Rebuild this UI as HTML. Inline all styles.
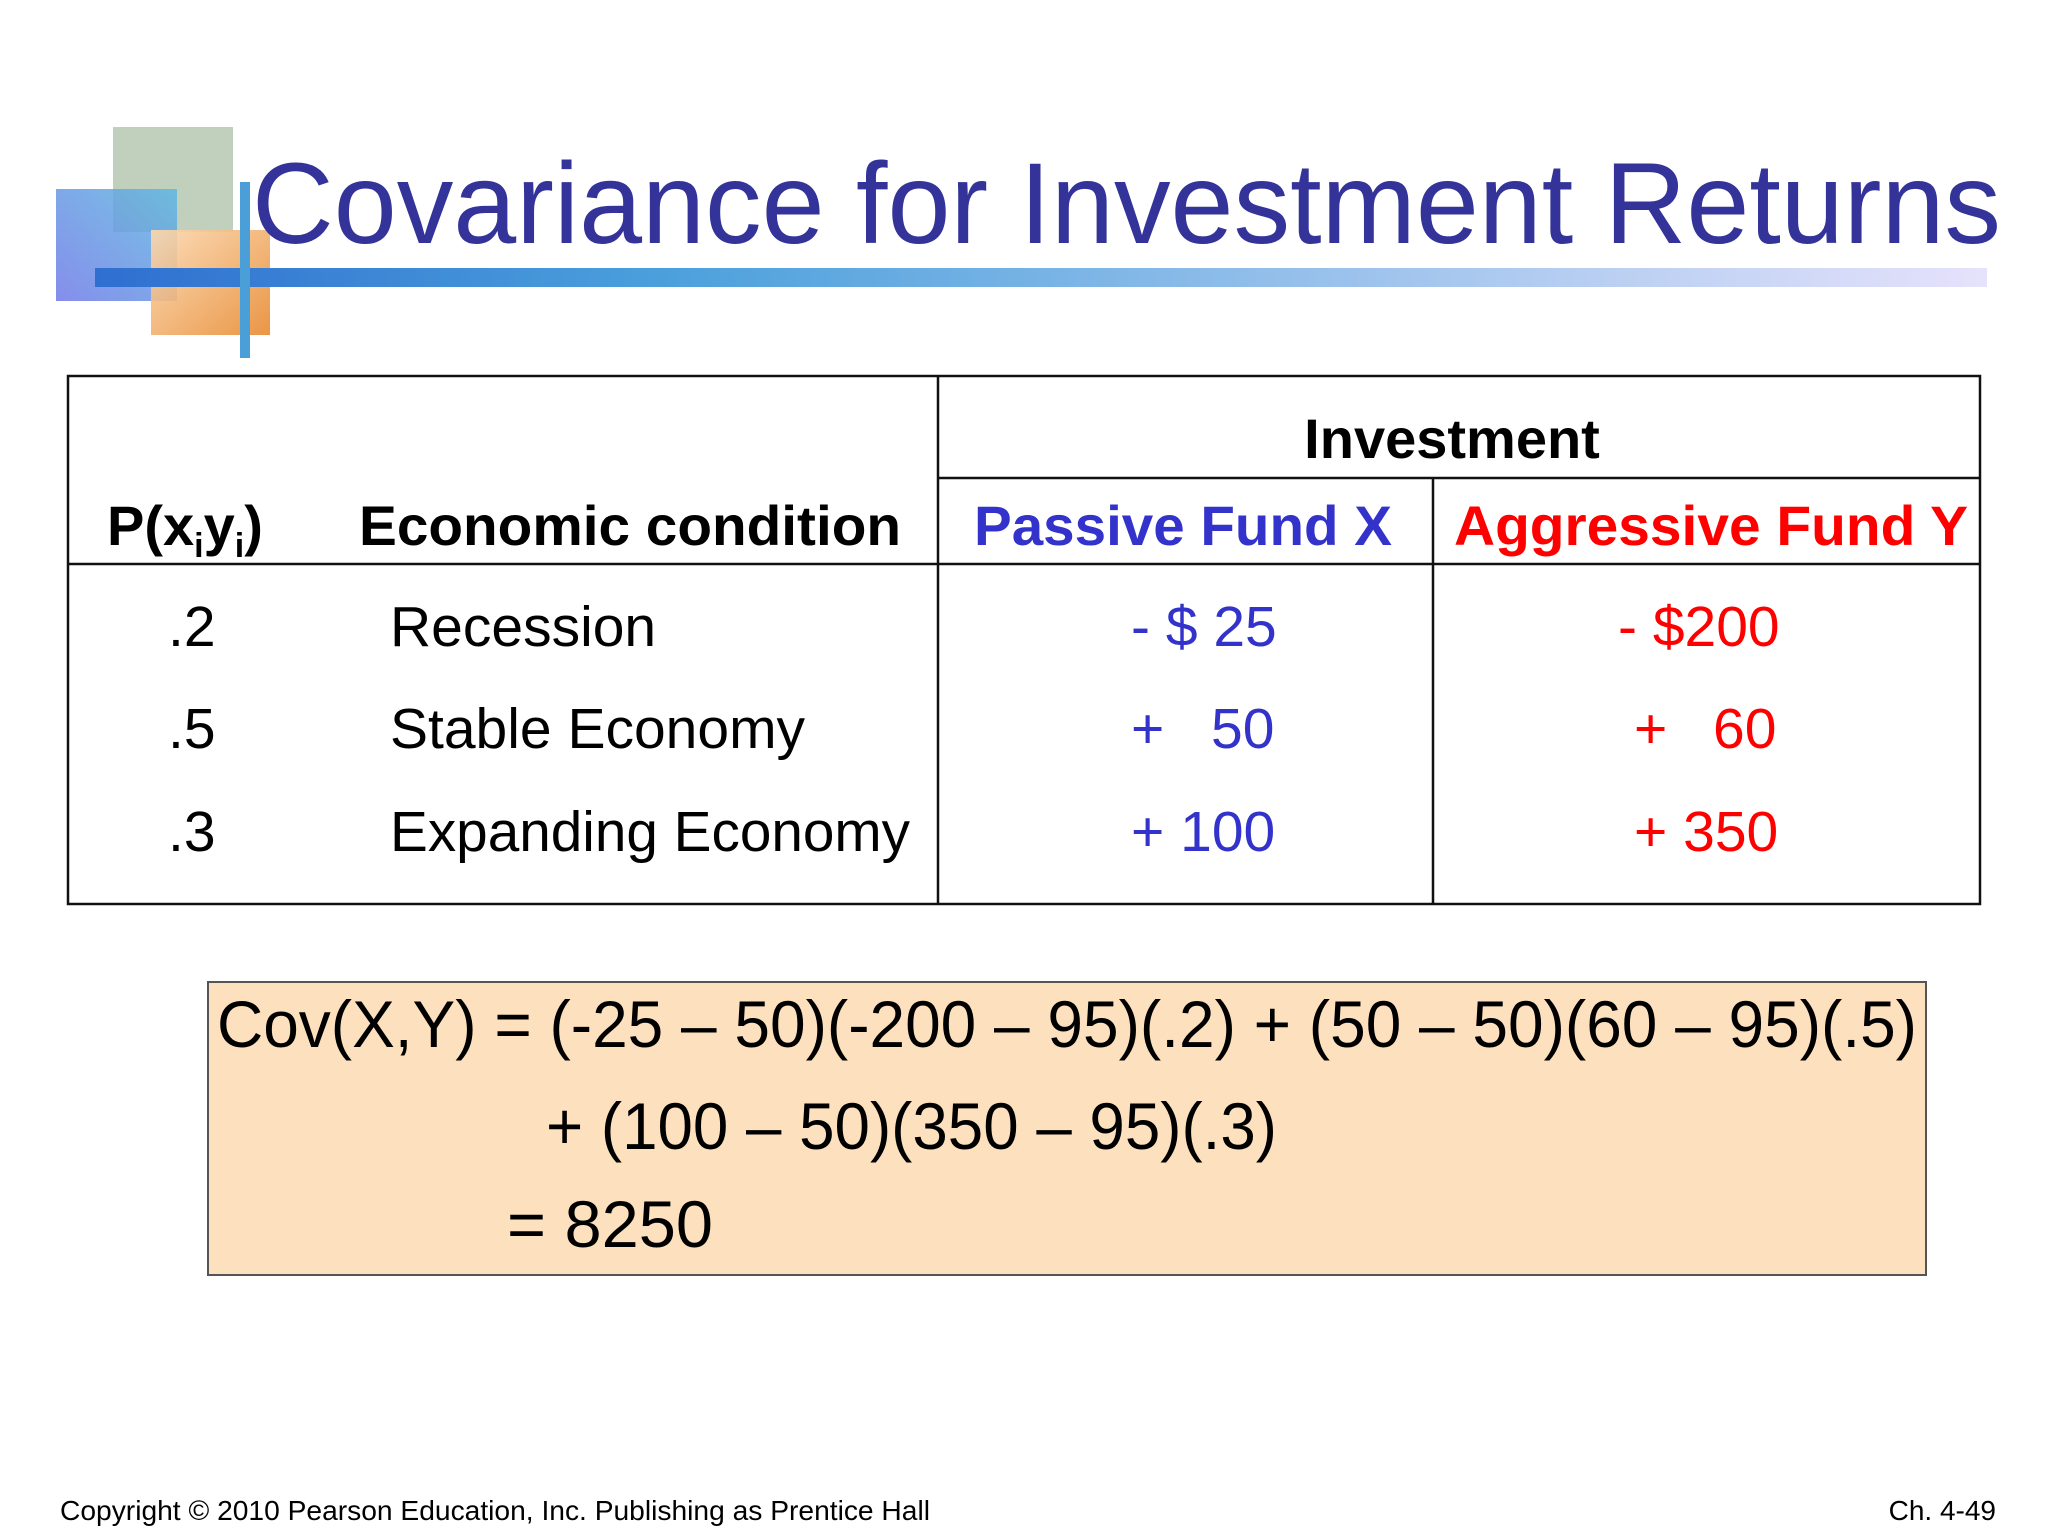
<!DOCTYPE html>
<html><head><meta charset="utf-8"><style>
html,body{margin:0;padding:0;background:#fff;}
svg{display:block;font-family:"Liberation Sans",Arial,sans-serif;}
</style></head><body>
<svg width="2048" height="1536" viewBox="0 0 2048 1536">
<defs>
<linearGradient id="bar" x1="0" x2="1"><stop offset="0" stop-color="#2f6fd0"/><stop offset="0.3" stop-color="#4ba0dc"/><stop offset="1" stop-color="#e6e2fb"/></linearGradient>
<linearGradient id="blueg" x1="0" x2="1" y1="1" y2="0"><stop offset="0" stop-color="#6f7ae8"/><stop offset="1" stop-color="#5fb8e0"/></linearGradient>
<linearGradient id="orag" x1="0" x2="1" y1="0" y2="1"><stop offset="0" stop-color="#fbd9b2"/><stop offset="1" stop-color="#e88a30"/></linearGradient>
</defs>
<g>
<rect x="113" y="127" width="120" height="105" fill="#b9cbb6" opacity="0.9"/>
<rect x="56" y="189" width="121" height="112" fill="url(#blueg)" opacity="0.85"/>
<rect x="151" y="230" width="119" height="105" fill="url(#orag)" opacity="0.9"/>
<rect x="95" y="268" width="1892" height="19" fill="url(#bar)"/>
<rect x="240" y="182" width="10" height="176" fill="#4a9fd8"/>
</g>
<text x="252" y="243" font-size="115" fill="#333399" textLength="1749" lengthAdjust="spacingAndGlyphs">Covariance for Investment Returns</text>
<g stroke="#111" stroke-width="2.5" fill="none">
<rect x="68" y="376" width="1912" height="528"/>
<line x1="938" y1="376" x2="938" y2="904"/>
<line x1="1433" y1="478" x2="1433" y2="904"/>
<line x1="68" y1="564" x2="1980" y2="564"/>
<line x1="938" y1="478" x2="1980" y2="478"/>
</g>
<g font-weight="bold" font-size="56">
<text x="1452" y="458" text-anchor="middle" fill="#000">Investment</text>
<text x="107" y="545" fill="#000">P(x<tspan font-size="34" dy="12">i</tspan><tspan dy="-12">y</tspan><tspan font-size="34" dy="12">i</tspan><tspan dy="-12">)</tspan></text>
<text x="359" y="545" fill="#000" textLength="542" lengthAdjust="spacingAndGlyphs">Economic condition</text>
<text x="974" y="545" fill="#3333cc" textLength="418" lengthAdjust="spacingAndGlyphs">Passive Fund X</text>
<text x="1454" y="545" fill="#ff0000" textLength="514" lengthAdjust="spacingAndGlyphs">Aggressive Fund Y</text>
</g>
<g font-size="57">
<text x="168" y="646">.2</text>
<text x="168" y="748">.5</text>
<text x="168" y="851">.3</text>
<text x="390" y="646">Recession</text>
<text x="390" y="748">Stable Economy</text>
<text x="390" y="851" textLength="520" lengthAdjust="spacingAndGlyphs">Expanding Economy</text>
<text x="1131" y="646" fill="#3333cc">- $ 25</text>
<text y="748" fill="#3333cc"><tspan x="1131">+</tspan><tspan x="1211">50</tspan></text>
<text x="1131" y="851" fill="#3333cc">+ 100</text>
<text x="1618" y="646" fill="#ff0000">- $200</text>
<text y="748" fill="#ff0000"><tspan x="1634">+</tspan><tspan x="1713">60</tspan></text>
<text x="1634" y="851" fill="#ff0000">+ 350</text>
</g>
<g>
<rect x="208" y="982" width="1718" height="293" fill="#fde0bd" stroke="#555" stroke-width="2"/>
<text x="217" y="1047" font-size="66" textLength="1700" lengthAdjust="spacingAndGlyphs">Cov(X,Y) = (-25 – 50)(-200 – 95)(.2) + (50 – 50)(60 – 95)(.5)</text>
<text x="546" y="1149" font-size="66" textLength="731" lengthAdjust="spacingAndGlyphs">+ (100 – 50)(350 – 95)(.3)</text>
<text x="507" y="1247" font-size="66" textLength="206" lengthAdjust="spacingAndGlyphs">= 8250</text>
</g>
<text x="60" y="1520" font-size="28" textLength="870" lengthAdjust="spacingAndGlyphs">Copyright © 2010 Pearson Education, Inc. Publishing as Prentice Hall</text>
<text x="1996" y="1520" font-size="28" text-anchor="end">Ch. 4-49</text>
</svg>
</body></html>
